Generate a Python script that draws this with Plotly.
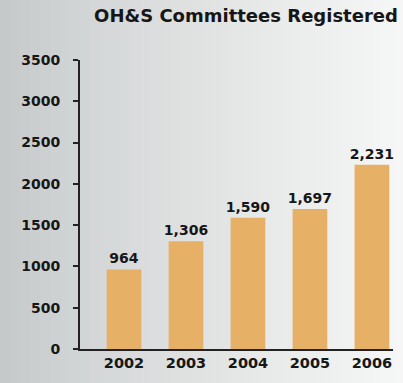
import plotly.graph_objects as go

years = ["2002", "2003", "2004", "2005", "2006"]
committees = [964, 1306, 1590, 1697, 2231]
y_ticks = [0, 500, 1000, 1500, 2000, 2500, 3000, 3500]

W, H = 403, 383
ML, MR, MT, MB = 80, 10, 60, 34
plot_w = W - ML - MR
plot_h = H - MT - MB

FONT = "DejaVu Sans"
INK = "#161616"

fig = go.Figure(
    go.Bar(
        x=list(range(len(years))),
        y=committees,
        width=0.56,
        marker=dict(color="#e6b066", line=dict(width=0)),
        texttemplate="<b>%{y:,}</b>",
        textposition="outside",
        constraintext="none",
        textfont=dict(family=FONT, size=14, color=INK),
        cliponaxis=False,
    )
)

# grey-to-white horizontal wash behind the whole chart
shapes = []
n = 40
for i in range(n):
    t = i / (n - 1)
    g0 = (197, 201, 202)
    g1 = (246, 246, 246)
    c = tuple(int(a + (b - a) * (t ** 0.8)) for a, b in zip(g0, g1))
    x0 = (i * W / n - ML) / plot_w
    x1 = ((i + 1) * W / n - ML) / plot_w + 0.002
    shapes.append(dict(
        type="rect", xref="paper", yref="paper",
        x0=x0, x1=x1, y0=-MB / plot_h, y1=1 + MT / plot_h,
        fillcolor="rgb(%d,%d,%d)" % c, line=dict(width=0), layer="below",
    ))

fig.update_layout(
    width=W, height=H,
    margin=dict(l=ML, r=MR, t=MT, b=MB),
    paper_bgcolor="#f2f2f2",
    plot_bgcolor="rgba(0,0,0,0)",
    shapes=shapes,
    showlegend=False,
    title=dict(
        text="<b>OH&S Committees Registered</b>",
        x=(94 + 398) / 2 / W, xanchor="center", y=1 - 16 / H, yanchor="middle",
        font=dict(family=FONT, size=18, color=INK),
    ),
    font=dict(family=FONT, size=14, color=INK),
)

fig.update_xaxes(
    range=[-0.71, 4.34],
    tickmode="array",
    tickvals=list(range(len(years))),
    ticktext=["<b>%s</b>" % y for y in years],
    showline=True, linecolor="#222222", linewidth=2,
    ticks="", showgrid=False, zeroline=False,
    tickfont=dict(size=14.5),
)
fig.update_yaxes(
    range=[0, 3500],
    tickmode="array",
    tickvals=y_ticks,
    ticktext=["<b>%d</b>" % v for v in y_ticks],
    showline=True, linecolor="#222222", linewidth=2,
    ticks="outside", ticklen=5, tickwidth=2, tickcolor="#222222",
    showgrid=False, zeroline=False,
    ticklabelstandoff=10,
    tickfont=dict(size=14),
)

fig.write_html("out.html")
